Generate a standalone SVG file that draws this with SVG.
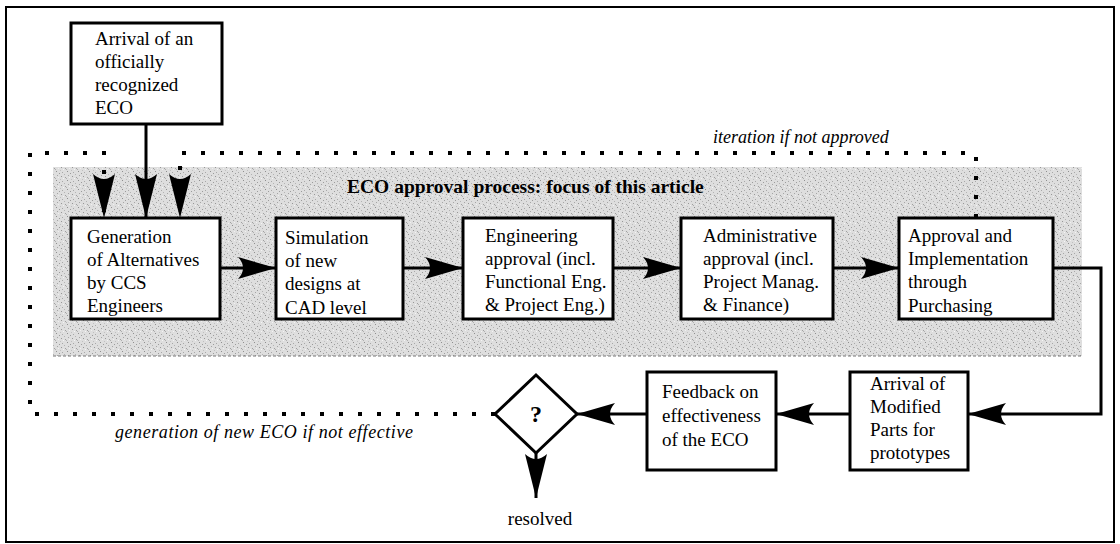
<svg xmlns="http://www.w3.org/2000/svg" width="1120" height="544" viewBox="0 0 1120 544">
<style>
.t{font-family:"Liberation Serif","Times New Roman",serif;font-size:19px;fill:#000}
.it{font-style:italic;font-size:18px}
.bd{font-weight:bold;font-size:19.5px}
.q{font-weight:bold;font-size:24px}
.box{fill:#fff;stroke:#000;stroke-width:3}
.con{fill:none;stroke:#000;stroke-width:3}
.dot{fill:none;stroke:#000;stroke-width:4;stroke-dasharray:4 15}
</style>
<defs>
<pattern id="stip" width="11" height="9" patternUnits="userSpaceOnUse">
<rect width="11" height="9" fill="#dedede"/>
<rect x="1" y="0" width="1" height="1" fill="#8f8f8f"/>
<rect x="7" y="1" width="1" height="1" fill="#a8a8a8"/>
<rect x="4" y="2" width="1" height="1" fill="#9c9c9c"/>
<rect x="9" y="3" width="1" height="1" fill="#b4b4b4"/>
<rect x="2" y="4" width="1" height="1" fill="#a6a6a6"/>
<rect x="6" y="5" width="1" height="1" fill="#979797"/>
<rect x="10" y="6" width="1" height="1" fill="#a0a0a0"/>
<rect x="0" y="7" width="1" height="1" fill="#b0b0b0"/>
<rect x="5" y="8" width="1" height="1" fill="#c0c0c0"/>
<rect x="8" y="7" width="1" height="1" fill="#f4f4f4"/>
<rect x="3" y="6" width="1" height="1" fill="#f0f0f0"/>
</pattern>
<marker id="ah" viewBox="0 0 38 22" markerWidth="38" markerHeight="22" refX="38" refY="11" orient="auto" markerUnits="userSpaceOnUse">
<path d="M0,0 L38,11 L0,22 Q10,11 0,0 Z" fill="#000"/>
</marker>
<marker id="ahv" viewBox="0 0 44 22" markerWidth="44" markerHeight="22" refX="44" refY="11" orient="auto" markerUnits="userSpaceOnUse">
<path d="M0,0 L44,11 L0,22 Q10,11 0,0 Z" fill="#000"/>
</marker>
</defs>
<rect x="0" y="0" width="1120" height="544" fill="#fff"/>
<rect x="6" y="7" width="1108" height="535" fill="none" stroke="#000" stroke-width="2"/>
<g id="focus-area">
<rect x="53" y="167" width="1029" height="189" fill="url(#stip)"/>
<line x1="53" y1="356" x2="1082" y2="356" stroke="#777" stroke-width="1" stroke-dasharray="3 2"/>
<text class="t bd" x="347" y="193">ECO approval  process: focus of this article</text>
</g>
<g id="connectors">
<path class="con" d="M146,124 V218" marker-end="url(#ahv)"/>
<path class="con" d="M220,268 H276" marker-end="url(#ah)"/>
<path class="con" d="M403,268 H463" marker-end="url(#ah)"/>
<path class="con" d="M613,268 H681" marker-end="url(#ah)"/>
<path class="con" d="M833,268 H899" marker-end="url(#ah)"/>
<path class="con" d="M1053,268 H1101 V414 H968" marker-end="url(#ah)"/>
<path class="con" d="M850,414 H776" marker-end="url(#ah)"/>
<path class="con" d="M647,414 H577" marker-end="url(#ah)"/>
<path class="con" d="M536,453 V498" marker-end="url(#ahv)"/>
<path class="dot" d="M495,414 H30 V153 H104 V218" marker-end="url(#ahv)"/>
<path class="dot" d="M976,218 V153 H180 V218" marker-end="url(#ahv)"/>
<text class="t it" x="713" y="143">iteration if not approved</text>
<text class="t it" x="115" y="438" textLength="298" lengthAdjust="spacing">generation of new ECO if not effective</text>
</g>
<g id="arrival-eco">
<rect class="box" x="71" y="23" width="151" height="101"/>
<text class="t" x="95" y="45">Arrival of an</text>
<text class="t" x="95" y="68">officially</text>
<text class="t" x="95" y="91">recognized</text>
<text class="t" x="95" y="114">ECO</text>
</g>
<g id="generation">
<rect class="box" x="71" y="218" width="149" height="101"/>
<text class="t" x="87" y="243">Generation</text>
<text class="t" x="87" y="266">of Alternatives</text>
<text class="t" x="87" y="289">by CCS</text>
<text class="t" x="87" y="312">Engineers</text>
</g>
<g id="simulation">
<rect class="box" x="276" y="218" width="127" height="101"/>
<text class="t" x="285" y="244">Simulation</text>
<text class="t" x="285" y="267">of new</text>
<text class="t" x="285" y="290">designs at</text>
<text class="t" x="285" y="314">CAD level</text>
</g>
<g id="engineering">
<rect class="box" x="463" y="218" width="150" height="101"/>
<text class="t" x="485" y="242">Engineering</text>
<text class="t" x="485" y="265">approval (incl.</text>
<text class="t" x="485" y="288">Functional Eng.</text>
<text class="t" x="485" y="311">&amp; Project Eng.)</text>
</g>
<g id="administrative">
<rect class="box" x="681" y="218" width="152" height="101"/>
<text class="t" x="703" y="242">Administrative</text>
<text class="t" x="703" y="265">approval (incl.</text>
<text class="t" x="703" y="288">Project Manag.</text>
<text class="t" x="703" y="311">&amp; Finance)</text>
</g>
<g id="approval">
<rect class="box" x="899" y="218" width="154" height="101"/>
<text class="t" x="908" y="242">Approval and</text>
<text class="t" x="908" y="265">Implementation</text>
<text class="t" x="908" y="288">through</text>
<text class="t" x="908" y="312">Purchasing</text>
</g>
<g id="arrival-parts">
<rect class="box" x="850" y="372" width="118" height="98"/>
<text class="t" x="870" y="390">Arrival of</text>
<text class="t" x="870" y="413">Modified</text>
<text class="t" x="870" y="436">Parts for</text>
<text class="t" x="870" y="459">prototypes</text>
</g>
<g id="feedback">
<rect class="box" x="647" y="372" width="129" height="98"/>
<text class="t" x="662" y="398">Feedback on</text>
<text class="t" x="662" y="422">effectiveness</text>
<text class="t" x="662" y="446">of the ECO</text>
</g>
<g id="decision">
<polygon class="box" points="536,375 577,414 536,453 495,414"/>
<text class="t q" x="536" y="422" text-anchor="middle">?</text>
</g>
<g id="resolved">
<text class="t" x="540" y="525" text-anchor="middle">resolved</text>
</g>
</svg>
